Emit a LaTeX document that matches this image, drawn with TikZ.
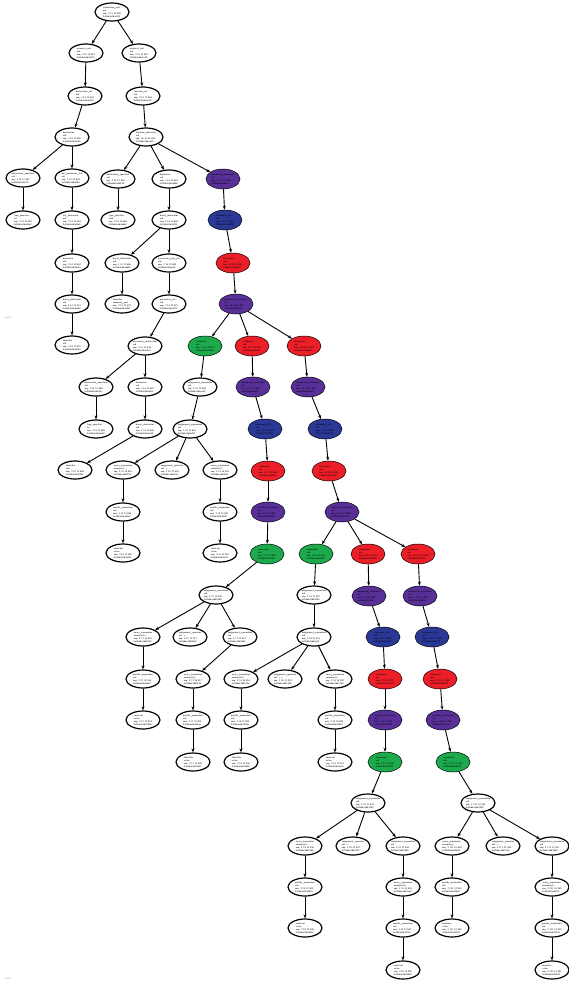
\documentclass[tikz,border=0pt]{standalone}
\usetikzlibrary{shapes.geometric,arrows.meta}
\definecolor{cpurple}{RGB}{88,48,152}
\definecolor{cblue}{RGB}{42,56,150}
\definecolor{cred}{RGB}{236,30,40}
\definecolor{cgreen}{RGB}{28,170,76}
\newcommand\ndl[4]{#1\\#2\\seq: #3\\#4}
\tikzset{
  pn/.style={ellipse, draw=black, line width=1.2pt, fill=white,
    minimum width=34pt, minimum height=18pt, inner xsep=-4pt, inner ysep=-2pt,
    font=\sffamily\fontsize{2.4}{3.1}\selectfont, align=left},
  cn/.style={pn, line width=0.5pt, minimum height=20pt},
  pu/.style={cn, fill=cpurple},
  bl/.style={cn, fill=cblue},
  rd/.style={cn, fill=cred},
  gr/.style={cn, fill=cgreen},
  edge/.style={-{Stealth[length=4pt,width=3pt]}, line width=0.9pt},
  note/.style={font=\sffamily\fontsize{2}{2}\selectfont, text=gray}
}
\begin{document}
\begin{tikzpicture}[x=1pt,y=-1pt]
\useasboundingbox (0,0) rectangle (568,983);
% ---- upper part: declarations
\node[pn] (root) at (112,12) {\ndl{translation\_unit}{uid}{2 13 12 850}{0x55d4e1b3c8f0}};
\node[pn] (a1) at (86,53) {\ndl{external\_unit}{uid}{2 14 12 851}{0x55d4e1b3c910}};
\node[pn] (a2) at (139,53) {\ndl{external\_unit}{uid}{2 14 12 852}{0x55d4e1b3ca20}};
\node[pn] (b1) at (85,96) {\ndl{declaration\_list}{uid}{2 14 12 853}{0x55d4e1b3cb30}};
\node[pn] (b2) at (143,96) {\ndl{function\_list}{uid}{2 14 12 854}{0x55d4e1b3cc40}};
\node[pn] (c1) at (72,137) {\ndl{declaration}{uid}{2 14 12 855}{0x55d4e1b3cd50}};
\node[pn] (c2) at (146,137) {\ndl{function\_definition}{uid}{16 14 12 856}{0x55d4e1b3ce60}};
\node[pn] (d1) at (23,178) {\ndl{declaration\_specifiers}{uid}{2 14 12 857}{0x55d4e1b3cf70}};
\node[pn] (d2) at (72,178) {\ndl{init\_declarator\_list}{uid}{2 14 12 858}{0x55d4e1b3d080}};
\node[pn] (d3) at (118,179) {\ndl{declaration\_specifiers}{uid}{2 14 12 859}{0x55d4e1b3d190}};
\node[pu] (d5) at (223,179) {\ndl{compound\_statement}{uid}{17 14 12 860}{0x55d4e1b3d2a0}};
\node[pn] (d4) at (169,179) {\ndl{declarator}{uid}{2 14 12 861}{0x55d4e1b3d3b0}};
\node[pn] (e1) at (23,220) {\ndl{type\_specifier}{int}{2 14 12 862}{0x55d4e1b3d4c0}};
\node[pn] (e2) at (72,220) {\ndl{init\_declarator}{uid}{2 14 12 863}{0x55d4e1b3d5d0}};
\node[pn] (e3) at (118,220) {\ndl{type\_specifier}{void}{2 14 12 864}{0x55d4e1b3d6e0}};
\node[pn] (e4) at (169,220) {\ndl{direct\_declarator}{uid}{2 14 12 865}{0x55d4e1b3d7f0}};
\node[bl] (e5) at (225,220) {\ndl{statement\_list}{uid}{2 14 12 866}{0x55d4e1b3d900}};
\node[pn] (f1) at (72,263) {\ndl{declarator}{uid}{2 14 12 867}{0x55d4e1b3da10}};
\node[pn] (f2) at (122,263) {\ndl{direct\_declarator}{uid}{2 14 12 868}{0x55d4e1b3db20}};
\node[pn] (f3) at (169,263) {\ndl{parameter\_type\_list}{uid}{2 14 12 869}{0x55d4e1b3dc30}};
\node[rd] (f4) at (233,263) {\ndl{statement}{uid}{16 14 12 870}{0x55d4e1b3dd40}};
\node[pn] (g1) at (72,304) {\ndl{direct\_declarator}{uid}{2 14 12 871}{0x55d4e1b3de50}};
\node[pn] (g2) at (122,304) {\ndl{identifier}{compute\_mat}{2 14 12 872}{0x55d4e1b3df60}};
\node[pn] (g3) at (169,304) {\ndl{parameter\_list}{uid}{2 14 12 873}{0x55d4e1b3e070}};
\node[pu] (g4) at (236,304) {\ndl{compound\_statement}{uid}{15 14 12 874}{0x55d4e1b3e180}};
\node[pn] (h1) at (72,345) {\ndl{identifier}{uid}{2 14 12 875}{0x55d4e1b3e290}};
\node[pn] (h2) at (145,346) {\ndl{parameter\_declaration}{uid}{2 14 12 876}{0x55d4e1b3e3a0}};
\node[gr] (h3) at (205,346) {\ndl{statement}{uid}{2 14 12 877}{0x55d4e1b3e4b0}};
\node[rd] (h4) at (252,346) {\ndl{statement}{uid}{8 17 12 878}{0x55d4e1b3e5c0}};
\node[rd] (h5) at (304,346) {\ndl{statement}{uid}{16 18 12 879}{0x55d4e1b3e6d0}};
\node[pn] (i1) at (96,387) {\ndl{declaration\_specifiers}{uid}{2 14 12 880}{0x55d4e1b3e7e0}};
\node[pn] (i2) at (145,387) {\ndl{declarator}{uid}{2 14 12 881}{0x55d4e1b3e8f0}};
\node[pn] (i3) at (200,387) {\ndl{assignment\_expression}{uid}{2 14 12 882}{0x55d4e1b3ea00}};
\node[pu] (i4) at (253,387) {\ndl{compound\_statement}{uid}{8 17 12 883}{0x55d4e1b3eb10}};
\node[pu] (i5) at (308,387) {\ndl{compound\_statement}{uid}{16 18 12 884}{0x55d4e1b3ec20}};
\node[pn] (j1) at (96,429) {\ndl{type\_specifier}{int}{2 14 12 885}{0x55d4e1b3ed30}};
\node[pn] (j2) at (145,429) {\ndl{direct\_declarator}{uid}{2 14 12 886}{0x55d4e1b3ee40}};
\node[pn] (j3) at (190,429) {\ndl{assignment\_expression}{uid}{2 14 12 887}{0x55d4e1b3ef50}};
\node[bl] (j4) at (265,429) {\ndl{statement\_list}{uid}{2 17 12 888}{0x55d4e1b3f060}};
\node[bl] (j5) at (325,429) {\ndl{statement\_list}{uid}{2 18 12 889}{0x55d4e1b3f170}};
\node[pn] (k1) at (75,470) {\ndl{identifier}{size}{2 14 12 890}{0x55d4e1b3f280}};
\node[pn] (k2) at (123,470) {\ndl{unary\_expression}{compute(...)}{2 14 18 891}{0x55d4e1b3f390}};
\node[pn] (k3) at (172,470) {\ndl{assignment\_operator}{uid: =}{2 14 12 892}{0x55d4e1b3f4a0}};
\node[pn] (k4) at (220,470) {\ndl{unary\_expression}{compute(i)}{2 14 18 893}{0x55d4e1b3f5b0}};
\node[rd] (k5) at (268,471) {\ndl{statement}{uid}{8 17 12 894}{0x55d4e1b3f6c0}};
\node[rd] (k6) at (329,471) {\ndl{statement}{uid}{16 18 12 895}{0x55d4e1b3f7d0}};
\node[pn] (l1) at (123,512) {\ndl{postfix\_expression}{uid}{2 14 12 896}{0x55d4e1b3f8e0}};
\node[pn] (l2) at (220,512) {\ndl{postfix\_expression}{uid}{2 14 12 897}{0x55d4e1b3f9f0}};
\node[pu] (l3) at (268,512) {\ndl{iteration\_statement}{uid}{2 17 12 898}{0x55d4e1b3fb00}};
\node[pu] (l4) at (342,512) {\ndl{iteration\_statement}{uid}{11 18 12 899}{0x55d4e1b3fc10}};
\node[pn] (m1) at (123,553) {\ndl{identifier}{value}{2 14 12 900}{0x55d4e1b3fd20}};
\node[pn] (m2) at (220,553) {\ndl{constant}{value}{2 14 12 901}{0x55d4e1b3fe30}};
\node[gr] (m3) at (267,554) {\ndl{expression}{uid}{2 17 12 902}{0x55d4e1b3ff40}};
\node[gr] (m4) at (316,554) {\ndl{expression}{uid}{2 18 12 903}{0x55d4e1b40050}};
\node[rd] (m5) at (368,554) {\ndl{statement}{uid}{8 19 12 904}{0x55d4e1b40160}};
\node[rd] (m6) at (418,554) {\ndl{statement}{uid}{10 111 12 905}{0x55d4e1b40270}};
% ---- middle part: expressions
\node[pn] (n1) at (216,595) {\ndl{assignment\_expression}{uid}{2 17 12 906}{0x55d4e1b40380}};
\node[pn] (n2) at (314,595) {\ndl{assignment\_expression}{uid}{2 18 12 907}{0x55d4e1b40490}};
\node[pu] (n3) at (369,596) {\ndl{compound\_statement}{uid}{8 19 12 908}{0x55d4e1b405a0}};
\node[pu] (n4) at (420,596) {\ndl{compound\_statement}{uid}{9 111 12 909}{0x55d4e1b406b0}};
\node[pn] (o1) at (143,637) {\ndl{unary\_expression}{compute(i)}{2 17 18 910}{0x55d4e1b407c0}};
\node[pn] (o2) at (190,637) {\ndl{assignment\_operator}{uid: =}{2 17 12 911}{0x55d4e1b408d0}};
\node[pn] (o3) at (240,637) {\ndl{assignment\_expression}{uid}{2 17 12 912}{0x55d4e1b409e0}};
\node[pn] (o4) at (314,637) {\ndl{assignment\_expression}{uid}{2 18 12 913}{0x55d4e1b40af0}};
\node[bl] (o5) at (383,637) {\ndl{statement\_list}{uid}{2 19 12 914}{0x55d4e1b40c00}};
\node[bl] (o6) at (432,637) {\ndl{statement\_list}{uid}{2 111 12 915}{0x55d4e1b40d10}};
\node[pn] (p1) at (143,679) {\ndl{postfix\_expression}{uid}{2 17 12 916}{0x55d4e1b40e20}};
\node[pn] (p2) at (193,679) {\ndl{unary\_expression}{compute(j)}{2 17 18 917}{0x55d4e1b40f30}};
\node[pn] (p3) at (241,679) {\ndl{unary\_expression}{compute(k)}{2 18 18 918}{0x55d4e1b41040}};
\node[pn] (p4) at (285,679) {\ndl{assignment\_operator}{uid: +=}{2 18 12 919}{0x55d4e1b41150}};
\node[pn] (p5) at (335,679) {\ndl{unary\_expression}{compute(j)}{2 18 18 920}{0x55d4e1b41260}};
\node[rd] (p6) at (385,679) {\ndl{statement}{uid}{8 19 12 921}{0x55d4e1b41370}};
\node[rd] (p7) at (440,679) {\ndl{statement}{uid}{9 111 12 922}{0x55d4e1b41480}};
\node[pn] (q1) at (143,720) {\ndl{constant}{value}{2 17 12 923}{0x55d4e1b41590}};
\node[pn] (q2) at (193,720) {\ndl{postfix\_expression}{uid}{2 17 12 924}{0x55d4e1b416a0}};
\node[pn] (q3) at (241,720) {\ndl{postfix\_expression}{uid}{2 18 12 925}{0x55d4e1b417b0}};
\node[pn] (q5) at (335,720) {\ndl{postfix\_expression}{uid}{2 18 12 926}{0x55d4e1b418c0}};
\node[pu] (q6) at (385,720) {\ndl{iteration\_statement}{uid}{2 19 12 927}{0x55d4e1b419d0}};
\node[pu] (q7) at (443,720) {\ndl{iteration\_statement}{uid}{2 111 12 928}{0x55d4e1b41ae0}};
\node[pn] (r2) at (193,762) {\ndl{identifier}{value}{2 17 12 929}{0x55d4e1b41bf0}};
\node[pn] (r3) at (241,762) {\ndl{identifier}{value}{2 18 12 930}{0x55d4e1b41d00}};
\node[pn] (r5) at (335,762) {\ndl{constant}{value}{2 18 12 931}{0x55d4e1b41e10}};
\node[gr] (r6) at (385,762) {\ndl{expression}{uid}{2 19 12 932}{0x55d4e1b41f20}};
\node[gr] (r7) at (453,762) {\ndl{expression}{uid}{2 111 12 933}{0x55d4e1b42030}};
% ---- lower part: innermost loop bodies
\node[pn] (s1) at (368,803) {\ndl{assignment\_expression}{uid}{2 19 12 934}{0x55d4e1b42140}};
\node[pn] (s2) at (478,803) {\ndl{assignment\_expression}{uid}{2 111 12 935}{0x55d4e1b42250}};
\node[pn] (t1) at (305,846) {\ndl{unary\_expression}{compute(i)}{2 19 18 936}{0x55d4e1b42360}};
\node[pn] (t2) at (353,846) {\ndl{assignment\_operator}{uid: =}{2 19 12 937}{0x55d4e1b42470}};
\node[pn] (t3) at (403,846) {\ndl{assignment\_expression}{uid}{2 19 12 938}{0x55d4e1b42580}};
\node[pn] (t4) at (452,846) {\ndl{unary\_expression}{compute(j)}{2 111 18 939}{0x55d4e1b42690}};
\node[pn] (t5) at (503,846) {\ndl{assignment\_operator}{uid: =}{2 111 12 940}{0x55d4e1b427a0}};
\node[pn] (t6) at (552,846) {\ndl{assignment\_expression}{uid}{2 111 12 941}{0x55d4e1b428b0}};
\node[pn] (u1) at (305,887) {\ndl{postfix\_expression}{uid}{2 19 12 942}{0x55d4e1b429c0}};
\node[pn] (u3) at (403,887) {\ndl{unary\_expression}{compute(k)}{2 19 18 943}{0x55d4e1b42ad0}};
\node[pn] (u4) at (452,887) {\ndl{postfix\_expression}{uid}{2 111 12 944}{0x55d4e1b42be0}};
\node[pn] (u6) at (552,887) {\ndl{unary\_expression}{compute(k)}{2 111 18 945}{0x55d4e1b42cf0}};
\node[pn] (v1) at (305,928) {\ndl{constant}{value}{2 19 12 946}{0x55d4e1b42e00}};
\node[pn] (v3) at (403,928) {\ndl{postfix\_expression}{uid}{2 19 12 947}{0x55d4e1b42f10}};
\node[pn] (v4) at (452,928) {\ndl{constant}{value}{2 111 12 948}{0x55d4e1b43020}};
\node[pn] (v6) at (552,928) {\ndl{postfix\_expression}{uid}{2 111 12 949}{0x55d4e1b43130}};
\node[pn] (w3) at (403,970) {\ndl{constant}{value}{2 19 12 950}{0x55d4e1b43240}};
\node[pn] (w6) at (552,970) {\ndl{constant}{value}{2 111 12 951}{0x55d4e1b43350}};
% ---- small side notes
\node[note] (nt1) at (8,318) {0x0000};
\node[note] (nt2) at (8,979) {0x0000};
% ---- edges
\foreach \p/\c in {root/a1,root/a2,a1/b1,a2/b2,b1/c1,b2/c2,c1/d1,c1/d2,d1/e1,d2/e2,e2/f1,f1/g1,g1/h1,
  c2/d3,c2/d4,c2/d5,d3/e3,d4/e4,e4/f2,e4/f3,f2/g2,f3/g3,g3/h2,h2/i1,h2/i2,i1/j1,i2/j2,j2/k1,
  d5/e5,e5/f4,f4/g4,g4/h3,g4/h4,g4/h5,
  h3/i3,i3/j3,j3/k2,j3/k3,j3/k4,k2/l1,l1/m1,k4/l2,l2/m2,
  h4/i4,i4/j4,j4/k5,k5/l3,l3/m3,m3/n1,n1/o1,n1/o2,n1/o3,o1/p1,p1/q1,o3/p2,p2/q2,q2/r2,
  h5/i5,i5/j5,j5/k6,k6/l4,l4/m4,l4/m5,l4/m6,m4/n2,n2/o4,o4/p3,o4/p4,o4/p5,p3/q3,q3/r3,p5/q5,q5/r5,
  m5/n3,n3/o5,o5/p6,p6/q6,q6/r6,r6/s1,s1/t1,s1/t2,s1/t3,t1/u1,u1/v1,t3/u3,u3/v3,v3/w3,
  m6/n4,n4/o6,o6/p7,p7/q7,q7/r7,r7/s2,s2/t4,s2/t5,s2/t6,t4/u4,u4/v4,t6/u6,u6/v6,v6/w6}
  \draw[edge] (\p) -- (\c);
\end{tikzpicture}
\end{document}
